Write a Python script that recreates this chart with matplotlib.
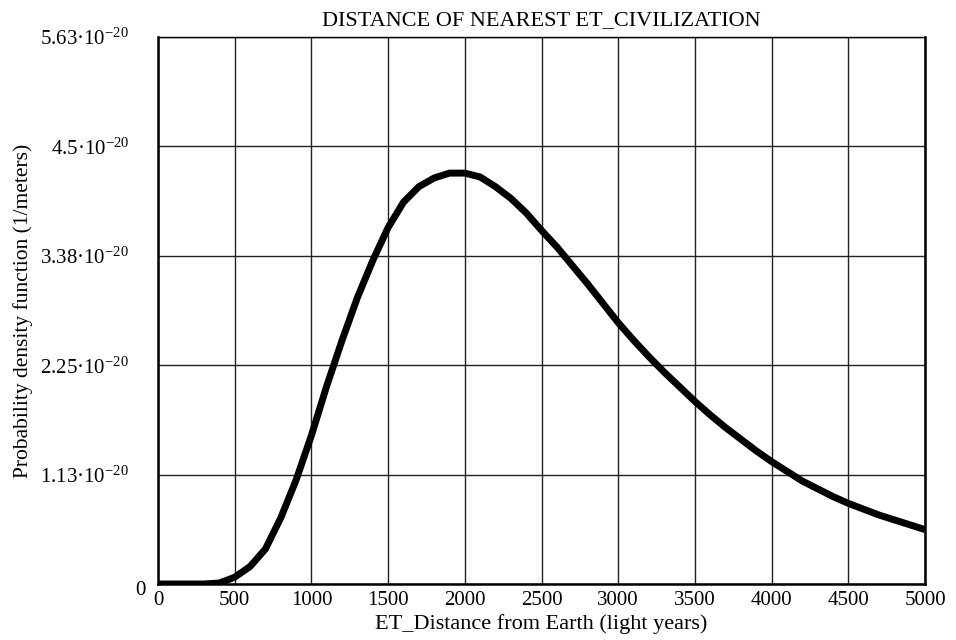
import matplotlib
matplotlib.use('Agg')
import matplotlib.pyplot as plt
import matplotlib.transforms as mtransforms

plt.rcParams['font.family'] = ['Liberation Serif', 'DejaVu Serif']
plt.rcParams['mathtext.fontset'] = 'custom'
plt.rcParams['mathtext.rm'] = 'Liberation Serif'
plt.rcParams['mathtext.it'] = 'Liberation Serif:italic'

# distance (light years) and pdf values (units of 1e-20 1/m)
distance = [0, 100, 200, 300, 400, 500, 600, 700, 800, 900, 1000, 1100, 1200,
            1300, 1400, 1500, 1600, 1700, 1800, 1900, 2000, 2100, 2200, 2300,
            2400, 2500, 2600, 2700, 2800, 2900, 3000, 3100, 3200, 3300, 3400,
            3500, 3600, 3700, 3800, 3900, 4000, 4100, 4200, 4300, 4400, 4500,
            4600, 4700, 4800, 4900, 5000]
pdf = [0.0, 0.0, 0.0, 0.0, 0.01, 0.07, 0.18, 0.36, 0.68, 1.07, 1.53, 2.04, 2.51,
       2.95, 3.33, 3.67, 3.93, 4.09, 4.18, 4.23, 4.23, 4.19, 4.09, 3.97,
       3.82, 3.64, 3.47, 3.28, 3.09, 2.89, 2.69, 2.51, 2.34, 2.18, 2.03,
       1.88, 1.74, 1.61, 1.49, 1.37, 1.26, 1.16, 1.06, 0.98, 0.90, 0.83,
       0.77, 0.71, 0.66, 0.61, 0.56]

x_ticks = [0, 500, 1000, 1500, 2000, 2500, 3000, 3500, 4000, 4500, 5000]
y_ticks = [0, 1.126, 2.252, 3.378, 4.504, 5.63]
y_tick_labels = ['0', '1.13', '2.25', '3.38', '4.5', '5.63']

fig = plt.figure(figsize=(9.56, 6.4), dpi=100)
ax = fig.add_axes([0.1653, 0.0875, 0.8023, 0.8545])

ax.plot(distance, pdf, color='black', linewidth=5.0,
        solid_capstyle='butt', solid_joinstyle='round')

ax.set_xlim(0, 5000)
ax.set_ylim(0, 5.63)
ax.set_xticks(x_ticks)
ax.set_yticks(y_ticks)
ax.set_yticklabels([l if l == '0' else l + '·10$^{-20}$' for l in y_tick_labels])
ax.grid(True, color='#222222', linewidth=1.0)
ax.set_axisbelow(True)
ax.tick_params(axis='both', length=0, labelsize=15)
ax.tick_params(axis='x', pad=5)
ax.tick_params(axis='y', pad=21)

for side in ['left', 'bottom', 'right']:
    ax.spines[side].set_linewidth(1.8)
ax.spines['top'].set_linewidth(1.0)

# the "0" label sits closer to the axis than the others
zero = ax.get_yticklabels()[0]
zero.set_transform(zero.get_transform() +
                   mtransforms.ScaledTranslation(12 / 72, -3 / 72, fig.dpi_scale_trans))

ax.set_title('DISTANCE OF NEAREST ET_CIVILIZATION', fontsize=16, pad=9)
ax.set_xlabel('ET_Distance from Earth (light years)', fontsize=16, labelpad=3)
ax.set_ylabel('Probability density function (1/meters)', fontsize=15.5, labelpad=5)

fig.savefig('out.png', dpi=100, facecolor='white')
